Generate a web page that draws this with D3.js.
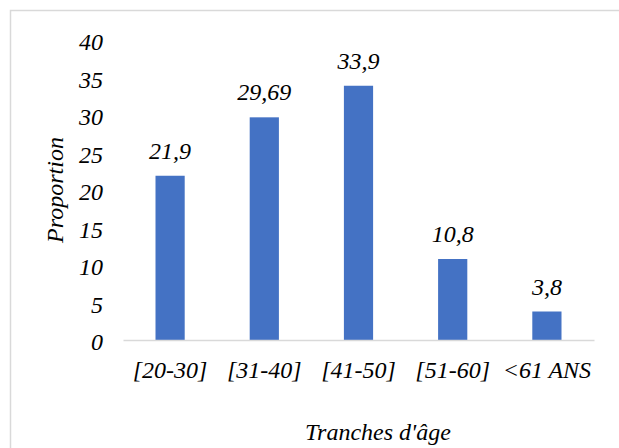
<!DOCTYPE html>
<html>
<head>
<meta charset="utf-8">
<script src="https://cdn.jsdelivr.net/npm/d3@7"></script>
</head>
<body style="margin:0;background:#fff">
<svg id="chart" width="619" height="448" style="display:block"></svg>
<script>
// Age groups and their share (%)
const categories = ["[20-30]", "[31-40]", "[41-50]", "[51-60]", "<61 ANS"];
const values = [21.9, 29.69, 33.9, 10.8, 3.8];
const valueLabels = ["21,9", "29,69", "33,9", "10,8", "3,8"];
const yTicks = [0, 5, 10, 15, 20, 25, 30, 35, 40];

function styleText(sel) {
  return sel
    .attr("font-family", null)
    .attr("font-size", 24)
    .style("font-family", '"Times New Roman"')
    .style("font-style", "italic")
    .attr("fill", "#000");
}

const svg = d3.select("#chart");

// Chart frame (runs off the right and bottom edges)
svg.append("rect")
  .attr("x", 10.5).attr("y", 10.5)
  .attr("width", 800).attr("height", 800)
  .attr("fill", "none")
  .attr("stroke", "#d9d9d9")
  .attr("stroke-width", 1.5);

const plot = { left: 123, right: 594, top: 40, bottom: 340 };

const x = d3.scaleBand()
  .domain(categories)
  .range([plot.left, plot.right])
  .padding(0);

const y = d3.scaleLinear()
  .domain([0, 40])
  .range([plot.bottom, plot.top]);

const barWidth = x.bandwidth() * 0.31;

// Bars
svg.append("g")
  .selectAll("rect")
  .data(categories)
  .join("rect")
  .attr("x", (d) => x(d) + x.bandwidth() / 2 - barWidth / 2)
  .attr("y", (d, i) => y(values[i]))
  .attr("width", barWidth)
  .attr("height", (d, i) => y(0) - y(values[i]))
  .attr("fill", "#4472c4");

// Value labels above the bars
svg.append("g")
  .selectAll("text")
  .data(categories)
  .join("text")
  .attr("x", (d) => x(d) + x.bandwidth() / 2)
  .attr("y", (d, i) => y(values[i]) - 17)
  .attr("text-anchor", "middle")
  .text((d, i) => valueLabels[i])
  .call(styleText);

// Y axis: labels only
const yAxis = d3.axisLeft(y)
  .tickValues(yTicks)
  .tickSize(0)
  .tickPadding(0)
  .tickFormat(d3.format("d"));

const gy = svg.append("g")
  .attr("transform", `translate(${plot.left - 20},0)`)
  .call(yAxis)
  .attr("font-family", null);
gy.select(".domain").remove();
gy.selectAll("text")
  .attr("dy", "0.4em")
  .call(styleText);

// X axis: baseline line and category labels
const xAxis = d3.axisBottom(x).tickSize(0).tickPadding(0);
const gx = svg.append("g")
  .attr("transform", `translate(0,${plot.bottom})`)
  .call(xAxis)
  .attr("font-family", null);
gx.select(".domain")
  .attr("stroke", "#d9d9d9")
  .attr("stroke-width", 1.5);
gx.selectAll("text")
  .attr("dy", null)
  .attr("y", 38)
  .call(styleText);

// Axis titles
svg.append("text")
  .attr("x", 378)
  .attr("y", 440)
  .attr("text-anchor", "middle")
  .text("Tranches d'âge")
  .call(styleText);

svg.append("text")
  .attr("transform", "translate(63,190) rotate(-90)")
  .attr("text-anchor", "middle")
  .text("Proportion")
  .call(styleText);
</script>
</body>
</html>
